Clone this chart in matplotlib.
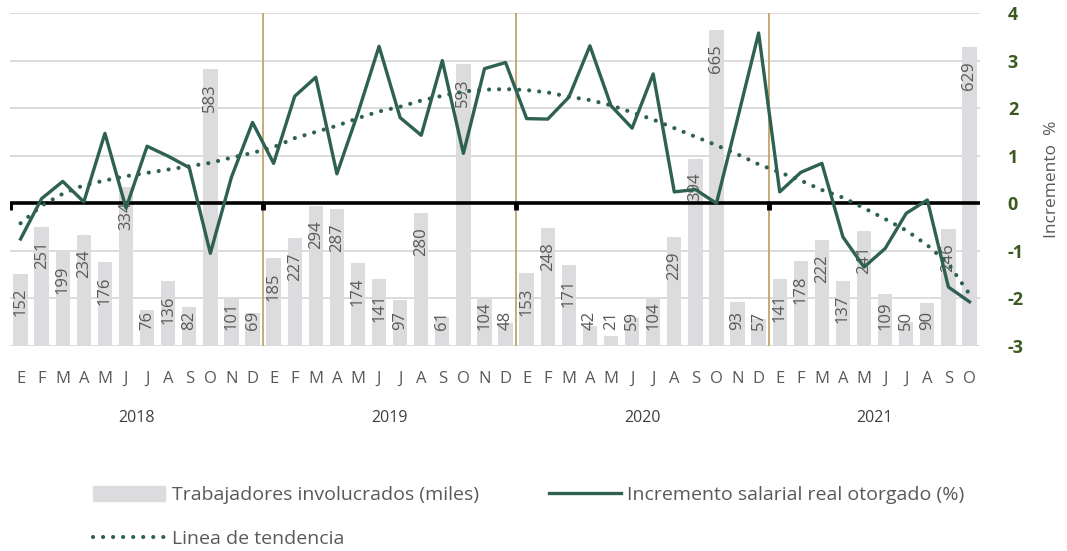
import matplotlib
matplotlib.use("Agg")
import matplotlib.pyplot as plt
from matplotlib.patches import Patch
from matplotlib.lines import Line2D
import numpy as np

plt.rcParams['font.family'] = ['Open Sans', 'DejaVu Sans']

# datos: enero 2018 - octubre 2021
meses = ['E', 'F', 'M', 'A', 'M', 'J', 'J', 'A', 'S', 'O', 'N', 'D'] * 3 + \
        ['E', 'F', 'M', 'A', 'M', 'J', 'J', 'A', 'S', 'O']
anios = ['2018', '2019', '2020', '2021']
meses_por_anio = [12, 12, 12, 10]

trabajadores = [152, 251, 199, 234, 176, 334, 76, 136, 82, 583, 101, 69,
                185, 227, 294, 287, 174, 141, 97, 280, 61, 593, 104, 48,
                153, 248, 171, 42, 21, 59, 104, 229, 394, 665, 93, 57,
                141, 178, 222, 137, 241, 109, 50, 90, 246, 629]

incremento = [-0.75, 0.10, 0.46, 0.03, 1.47, -0.10, 1.20, 0.99, 0.75, -1.05, 0.55, 1.70,
              0.84, 2.25, 2.65, 0.62, 1.90, 3.30, 1.80, 1.43, 3.00, 1.05, 2.83, 2.96,
              1.78, 1.77, 2.23, 3.31, 2.05, 1.58, 2.72, 0.24, 0.29, 0.00, 1.78, 3.58,
              0.24, 0.65, 0.84, -0.71, -1.34, -0.95, -0.21, 0.07, -1.76, -2.07]

tendencia = [-0.42, -0.05, 0.20, 0.38, 0.48, 0.57, 0.64, 0.71, 0.78, 0.85, 0.96, 1.06,
             1.18, 1.37, 1.50, 1.63, 1.79, 1.93, 2.03, 2.16, 2.26, 2.35, 2.39, 2.40,
             2.38, 2.33, 2.24, 2.17, 2.06, 1.91, 1.76, 1.58, 1.40, 1.22, 1.03, 0.82,
             0.65, 0.48, 0.28, 0.12, -0.10, -0.33, -0.57, -0.88, -1.27, -1.91]

c_barra = '#dcdcde'
c_linea = '#2e6152'
c_eje = '#3a5a20'
c_texto = '#595959'
c_sep = '#c4a46c'

x = np.arange(len(trabajadores))

fig = plt.figure(figsize=(10.67, 5.51), dpi=100)
ax = fig.add_axes([0.0094, 0.372, 0.9091, 0.6044])
ax2 = ax.twinx()

# rejilla (en el eje de barras, por debajo)
for g in range(0, 701, 100):
    ax.axhline(g, color='#d9d9d9', lw=1.3, zorder=0)

# barras (eje oculto 0-700)
ax.bar(x, trabajadores, width=0.68, color=c_barra, zorder=2)
ax.set_ylim(0, 700)
ax.set_xlim(-0.5, len(x) - 0.5)
ax.set_yticks([])
for xi, v in zip(x, trabajadores):
    if v < 115:
        ax.text(xi, 34, str(v), rotation=90, ha='center', va='bottom',
                fontsize=12, color=c_texto, zorder=3)
    else:
        ax.text(xi, v - 30, str(v), rotation=90, ha='center', va='top',
                fontsize=12, color=c_texto, zorder=3)

# separadores de año
lim = np.cumsum(meses_por_anio)[:-1] - 0.5
for s in lim:
    ax.axvline(s, color=c_sep, lw=1.3, zorder=1)

ax2.set_ylim(-3, 4)
ax2.axhline(0, color='black', lw=2.6, zorder=4)
ax2.plot(np.concatenate([[-0.5], lim]), np.zeros(len(lim) + 1), ls='none',
         marker=3, ms=5, mew=3.5, color='black', zorder=4)
ax2.plot(x, incremento, color=c_linea, lw=2.4, zorder=5)
ax2.plot(x, tendencia, color=c_linea, lw=3.0, ls=(0, (0.01, 2.4)),
         dash_capstyle='round', zorder=5)

ax2.set_yticks(range(-3, 5))
ax2.set_yticklabels([str(t) for t in range(-3, 5)], fontsize=13,
                    fontweight='bold', color=c_eje)
ax2.tick_params(axis='y', length=0, pad=20)
ax2.set_ylabel('Incremento  %', fontsize=12.5, color=c_texto)
ax2.yaxis.set_label_coords(1.066, 0.5)

ax.set_xticks(x)
ax.set_xticklabels(meses, fontsize=12, color=c_texto)
ax.tick_params(axis='x', length=0, pad=18)

inicio = 0
for a, n in zip(anios, meses_por_anio):
    ax.text(inicio + (n - 1) / 2, -0.215, a, transform=ax.get_xaxis_transform(),
            ha='center', va='center', fontsize=11.5, color='#404040')
    inicio += n

for sp in ax.spines.values():
    sp.set_visible(False)
for sp in ax2.spines.values():
    sp.set_visible(False)

handles = [Patch(color=c_barra),
           Line2D([], [], color=c_linea, lw=3.0, ls=(0, (0.01, 2.4)), dash_capstyle='round'),
           Line2D([], [], color=c_linea, lw=2.4)]
labels = ['Trabajadores involucrados (miles)', 'Linea de tendencia',
          'Incremento salarial real otorgado (%)']
fig.legend(handles, labels, loc='upper left', bbox_to_anchor=(0.087, 0.118),
           ncol=2, frameon=False, fontsize=14, labelcolor=c_texto,
           handlelength=3.7, handleheight=0.8, handletextpad=0.35,
           columnspacing=3.6, labelspacing=1.3, borderpad=0, borderaxespad=0)

fig.savefig('out.png', dpi=100)
